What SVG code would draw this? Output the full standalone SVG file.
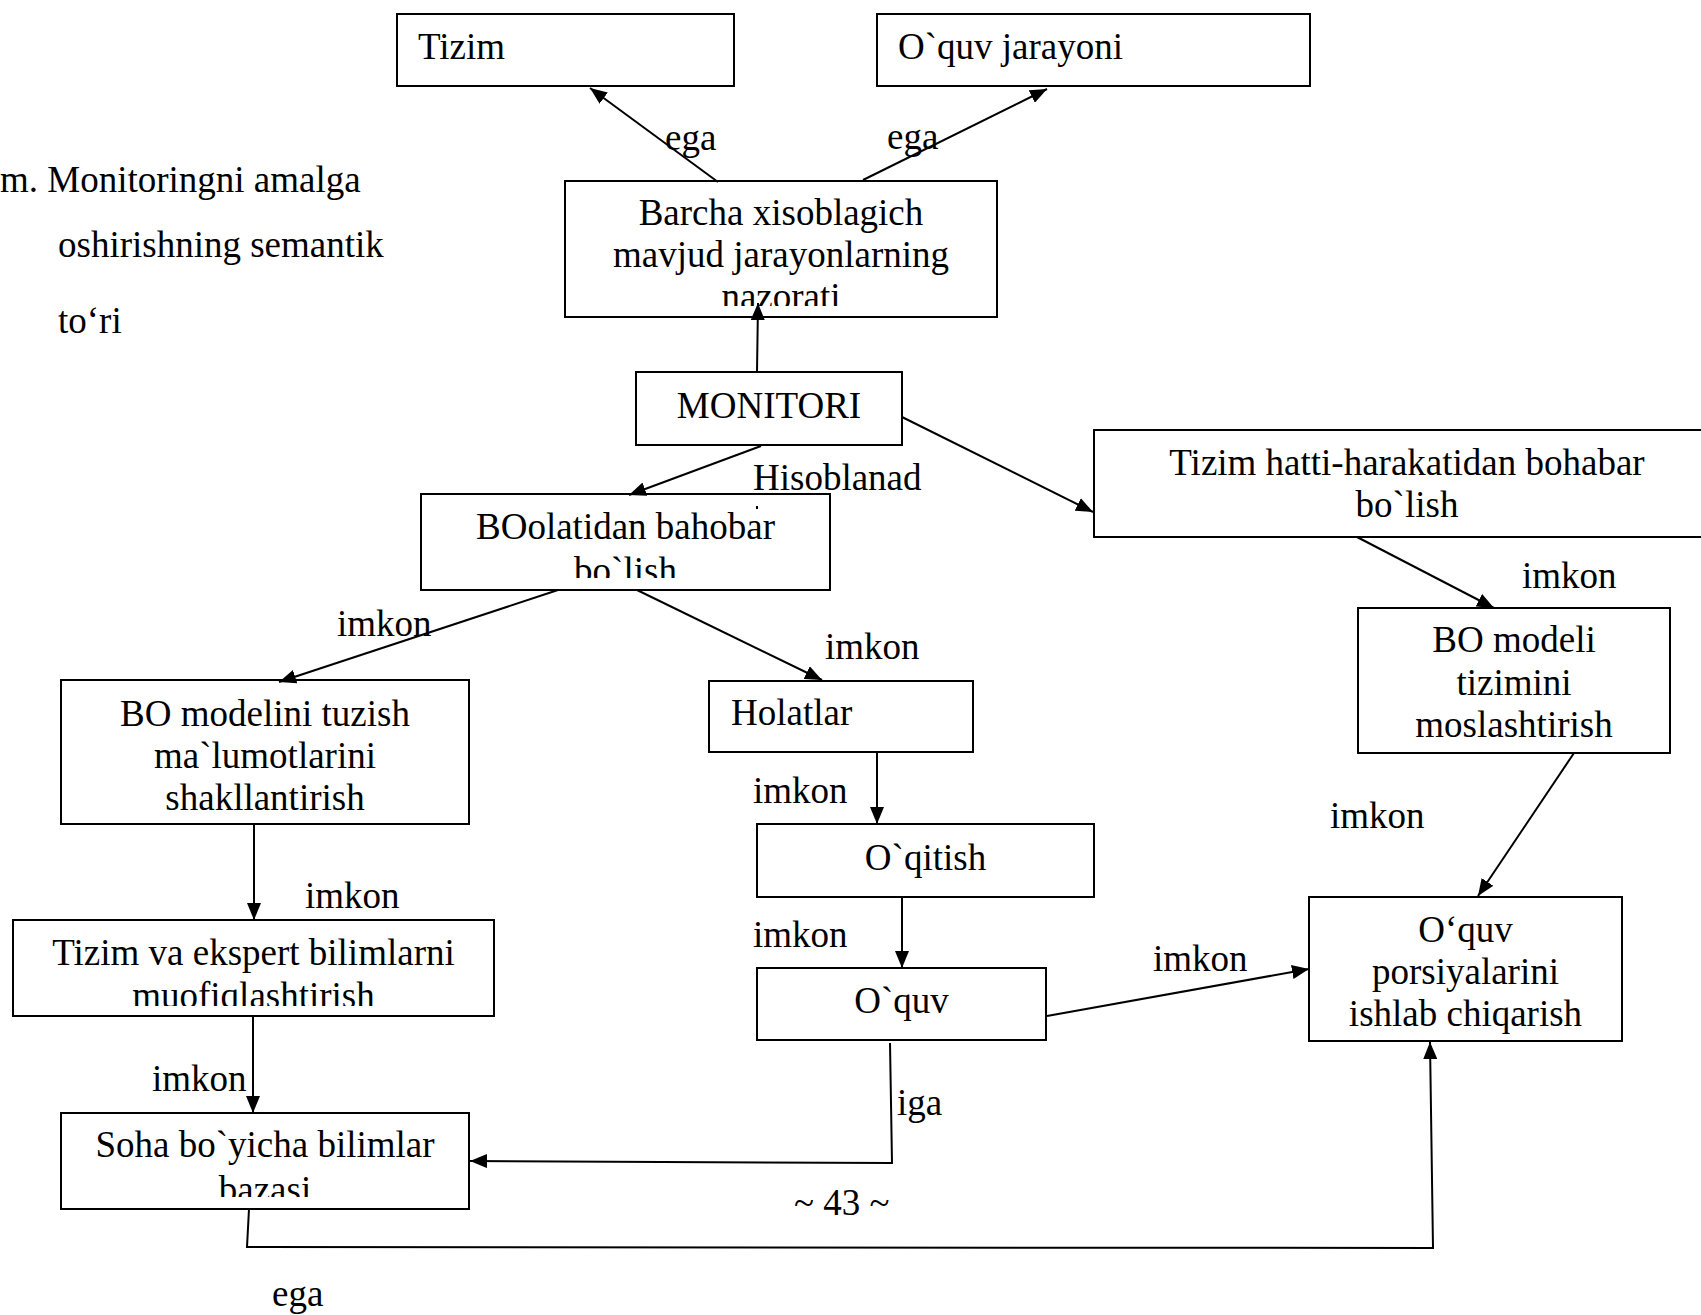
<svg xmlns="http://www.w3.org/2000/svg" width="1701" height="1315" viewBox="0 0 1701 1315">
<style>
  .box { fill: #fff; stroke: #000; stroke-width: 2; }
  .t { font-family: "Liberation Serif", "Times New Roman", serif; font-size: 37px; fill: #000; }
  .c { text-anchor: middle; }
  .ln { fill: none; stroke: #000; stroke-width: 2; marker-end: url(#ah); }
</style>
<defs>
  <marker id="ah" markerUnits="userSpaceOnUse" markerWidth="17" markerHeight="14" refX="17" refY="7" orient="auto">
    <path d="M0,0 L17,7 L0,14 z" fill="#000"/>
  </marker>
  <clipPath id="cpBarcha"><rect x="565" y="181" width="432" height="125"/></clipPath>
  <clipPath id="cpBO"><rect x="421" y="494" width="409" height="84"/></clipPath>
  <clipPath id="cpTV"><rect x="13" y="920" width="481" height="86"/></clipPath>
  <clipPath id="cpSoha"><rect x="61" y="1113" width="408" height="84"/></clipPath>
</defs>
<rect width="1701" height="1315" fill="#fff"/>

<g id="caption">
  <text class="t" x="0" y="192">m. Monitoringni amalga</text>
  <text class="t" x="58" y="257">oshirishning semantik</text>
  <text class="t" x="58" y="333">to‘ri</text>
</g>

<g id="n-tizim">
  <rect class="box" x="397" y="14" width="337" height="72"/>
  <text class="t" x="418" y="59">Tizim</text>
</g>
<g id="n-oquv-jarayoni">
  <rect class="box" x="877" y="14" width="433" height="72"/>
  <text class="t" x="898" y="59">O`quv jarayoni</text>
</g>
<g id="n-barcha">
  <rect class="box" x="565" y="181" width="432" height="136"/>
  <g clip-path="url(#cpBarcha)">
    <text class="t c" x="781" y="225">Barcha xisoblagich</text>
    <text class="t c" x="781" y="267">mavjud jarayonlarning</text>
    <text class="t c" x="781" y="309">nazorati</text>
  </g>
</g>
<g id="n-monitori">
  <rect class="box" x="636" y="372" width="266" height="73"/>
  <text class="t c" x="769" y="418">MONITORI</text>
</g>
<g id="n-tizim-hatti">
  <rect class="box" x="1094" y="430" width="630" height="107"/>
  <text class="t c" x="1407" y="475">Tizim hatti-harakatidan bohabar</text>
  <text class="t c" x="1407" y="517">bo`lish</text>
</g>
<g id="n-boolatidan">
  <rect class="box" x="421" y="494" width="409" height="96"/>
  <g clip-path="url(#cpBO)">
    <text class="t c" x="625.5" y="539">BOolatidan bahobar</text>
    <text class="t c" x="625.5" y="583">bo`lish</text>
  </g>
</g>
<g id="n-bo-modelini">
  <rect class="box" x="61" y="680" width="408" height="144"/>
  <text class="t c" x="265" y="726">BO modelini tuzish</text>
  <text class="t c" x="265" y="768">ma`lumotlarini</text>
  <text class="t c" x="265" y="810">shakllantirish</text>
</g>
<g id="n-holatlar">
  <rect class="box" x="709" y="681" width="264" height="71"/>
  <text class="t" x="731" y="725">Holatlar</text>
</g>
<g id="n-bo-modeli">
  <rect class="box" x="1358" y="608" width="312" height="145"/>
  <text class="t c" x="1514" y="652">BO modeli</text>
  <text class="t c" x="1514" y="695">tizimini</text>
  <text class="t c" x="1514" y="737">moslashtirish</text>
</g>
<g id="n-oqitish">
  <rect class="box" x="757" y="824" width="337" height="73"/>
  <text class="t c" x="925.5" y="870">O`qitish</text>
</g>
<g id="n-tizim-ekspert">
  <rect class="box" x="13" y="920" width="481" height="96"/>
  <g clip-path="url(#cpTV)">
    <text class="t c" x="253.5" y="965">Tizim va ekspert bilimlarni</text>
    <text class="t c" x="253.5" y="1008">muofiqlashtirish</text>
  </g>
</g>
<g id="n-oquv">
  <rect class="box" x="757" y="968" width="289" height="72"/>
  <text class="t c" x="901.5" y="1013">O`quv</text>
</g>
<g id="n-porsiya">
  <rect class="box" x="1309" y="897" width="313" height="144"/>
  <text class="t c" x="1465.5" y="942">O‘quv</text>
  <text class="t c" x="1465.5" y="984">porsiyalarini</text>
  <text class="t c" x="1465.5" y="1026">ishlab chiqarish</text>
</g>
<g id="n-soha">
  <rect class="box" x="61" y="1113" width="408" height="96"/>
  <g clip-path="url(#cpSoha)">
    <text class="t c" x="265" y="1157">Soha bo`yicha bilimlar</text>
    <text class="t c" x="265" y="1202">bazasi</text>
  </g>
</g>

<g id="connectors">
  <path class="ln" d="M718,182 L590,88"/>
  <path class="ln" d="M863,180 L1047,89"/>
  <path class="ln" d="M757,372 L758,303"/>
  <path class="ln" d="M761,446 L629,495"/>
  <path class="ln" d="M902,417 L1093,512"/>
  <path class="ln" d="M558,590 L279,682"/>
  <path class="ln" d="M637,590 L822,680"/>
  <path class="ln" d="M1357,537 L1494,608"/>
  <path class="ln" d="M877,752 L877,824"/>
  <path class="ln" d="M902,897 L902,968"/>
  <path class="ln" d="M254,824 L254,920"/>
  <path class="ln" d="M253,1016 L253,1113"/>
  <path class="ln" d="M890,1043 L892,1163 L470,1161"/>
  <path class="ln" d="M1047,1016 L1309,969"/>
  <path class="ln" d="M1574,753 L1478,896"/>
  <path class="ln" d="M249,1209 L247,1247 L1433,1248 L1430,1042"/>
</g>

<g id="labels">
  <text class="t" x="665" y="150">ega</text>
  <text class="t" x="887" y="149">ega</text>
  <text class="t" x="753" y="490">Hisoblanad</text>
  <rect x="756" y="506" width="2" height="3" fill="#000"/>
  <text class="t" x="337" y="636">imkon</text>
  <text class="t" x="825" y="659">imkon</text>
  <text class="t" x="1522" y="588">imkon</text>
  <text class="t" x="753" y="803">imkon</text>
  <text class="t" x="1330" y="828">imkon</text>
  <text class="t" x="305" y="908">imkon</text>
  <text class="t" x="753" y="947">imkon</text>
  <text class="t" x="1153" y="971">imkon</text>
  <text class="t" x="152" y="1091">imkon</text>
  <text class="t" x="897" y="1115">iga</text>
  <text class="t" x="794" y="1215">~ 43 ~</text>
  <text class="t" x="272" y="1306">ega</text>
</g>
</svg>
